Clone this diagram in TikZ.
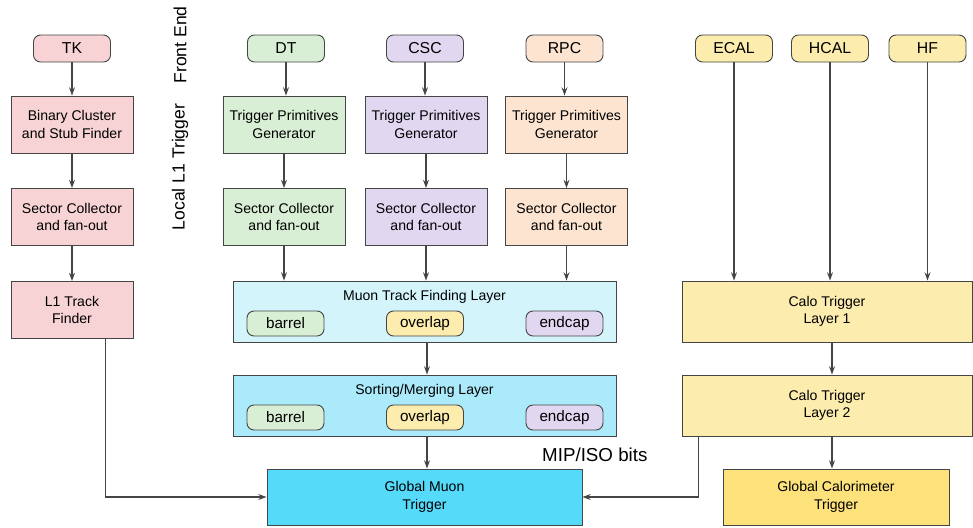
\documentclass[tikz,border=0pt]{standalone}
\usepackage{fontspec}
\setmainfont{Liberation Sans}
\usetikzlibrary{arrows.meta,calc}

\definecolor{tkpink}{HTML}{F8D3D5}
\definecolor{dtgreen}{HTML}{D9EFD5}
\definecolor{cscpurple}{HTML}{E1D7F1}
\definecolor{rpcorange}{HTML}{FCE4D0}
\definecolor{calopale}{HTML}{FCECAE}
\definecolor{caloyellow}{HTML}{FDE27C}
\definecolor{mtfcyan}{HTML}{D4F4FC}
\definecolor{smcyan}{HTML}{ABEAFA}
\definecolor{gmtcyan}{HTML}{55DAFA}
\definecolor{linegray}{HTML}{454545}

\begin{document}
\begin{tikzpicture}[x=0.03cm,y=-0.03cm,
	pill/.style={draw=linegray,line width=0.8pt,rounded corners=6pt,minimum width=2.31cm,minimum height=0.81cm,inner sep=0pt,font=\fontsize{13.5}{16}\selectfont},
	box/.style={draw=linegray,line width=0.8pt,minimum width=3.66cm,minimum height=1.71cm,inner sep=0pt,align=center,font=\fontsize{12}{15}\selectfont},
	layer/.style={draw=linegray,line width=0.8pt,minimum width=11.49cm,minimum height=1.83cm,inner sep=0pt},
	subpill/.style={draw=linegray,line width=0.8pt,rounded corners=6pt,minimum width=2.31cm,minimum height=0.75cm,inner sep=0pt,font=\fontsize{13}{15}\selectfont},
	layertitle/.style={inner sep=0pt,font=\fontsize{12}{15}\selectfont},
	sidelabel/.style={rotate=90,inner sep=0pt,font=\fontsize{15}{18}\selectfont},
	arr/.style={-{Stealth[length=7pt,width=5pt]},draw=linegray,line width=1pt}]
	\useasboundingbox (0,0) rectangle (973,527);

	% front end
	\node[pill,fill=tkpink] (tk) at (72,48.5) {TK};
	\node[pill,fill=dtgreen] (dt) at (286,48.5) {DT};
	\node[pill,fill=cscpurple] (csc) at (425,48.5) {CSC};
	\node[pill,fill=rpcorange] (rpc) at (564.5,48.5) {RPC};
	\node[pill,fill=calopale] (ecal) at (734,48.5) {ECAL};
	\node[pill,fill=calopale] (hcal) at (830,48.5) {HCAL};
	\node[pill,fill=calopale] (hf) at (927.5,48.5) {HF};

	\node[sidelabel] (frontend) at (180,45) {Front End};
	\node[sidelabel] (locall1) at (180,167) {Local L1 Trigger};

	% tracker column
	\node[box,fill=tkpink] (bcsf) at (72,124.5) {Binary Cluster\\and Stub Finder};
	\node[box,fill=tkpink] (tksc) at (72,217) {Sector Collector\\and fan-out};
	\node[box,fill=tkpink] (l1tf) at (72,310) {L1 Track\\Finder};

	% muon columns
	\node[box,fill=dtgreen] (dttpg) at (284,124.5) {Trigger Primitives\\Generator};
	\node[box,fill=cscpurple] (csctpg) at (426,124.5) {Trigger Primitives\\Generator};
	\node[box,fill=rpcorange] (rpctpg) at (566.5,124.5) {Trigger Primitives\\Generator};
	\node[box,fill=dtgreen] (dtsc) at (284,217) {Sector Collector\\and fan-out};
	\node[box,fill=cscpurple] (cscsc) at (426,217) {Sector Collector\\and fan-out};
	\node[box,fill=rpcorange] (rpcsc) at (566.5,217) {Sector Collector\\and fan-out};

	\node[layer,fill=mtfcyan] (mtf) at (424.5,311.5) {};
	\node[layertitle] (mtftitle) at (424.5,297) {Muon Track Finding Layer};
	\node[subpill,fill=dtgreen] (mtfbarrel) at (285.5,323.5) {barrel};
	\node[subpill,fill=calopale] (mtfoverlap) at (425,323.5) {overlap};
	\node[subpill,fill=cscpurple] (mtfendcap) at (564.5,323.5) {endcap};

	\node[layer,fill=smcyan] (sm) at (424.5,405.5) {};
	\node[layertitle] (smtitle) at (424.5,391) {Sorting/Merging Layer};
	\node[subpill,fill=dtgreen] (smbarrel) at (285.5,417.5) {barrel};
	\node[subpill,fill=calopale] (smoverlap) at (425,417.5) {overlap};
	\node[subpill,fill=cscpurple] (smendcap) at (564.5,417.5) {endcap};

	\node[box,fill=gmtcyan,minimum width=9.45cm,minimum height=1.68cm] (gmt) at (424.5,497) {Global Muon\\Trigger};

	% calorimeter column
	\node[box,fill=calopale,minimum width=8.7cm,minimum height=1.83cm] (calo1) at (827,311.5) {Calo Trigger\\Layer 1};
	\node[box,fill=calopale,minimum width=8.7cm,minimum height=1.83cm] (calo2) at (827,405.5) {Calo Trigger\\Layer 2};
	\node[box,fill=caloyellow,minimum width=6.78cm,minimum height=1.68cm] (gct) at (836,497) {Global Calorimeter\\Trigger};

	\node[anchor=west,inner sep=0pt,font=\fontsize{16}{19}\selectfont] (mipiso) at (542,455) {MIP/ISO bits};

	% arrows
	\draw[arr] (tk) -- (bcsf);
	\draw[arr] (bcsf) -- (tksc);
	\draw[arr] (tksc) -- (l1tf);
	\draw[arr] ($(l1tf.south)+(33.5,0)$) |- (gmt.west);

	\draw[arr] (dt.south) -- (dt.south |- dttpg.north);
	\draw[arr] (csc.south) -- (csc.south |- csctpg.north);
	\draw[arr] (rpc.south) -- (rpc.south |- rpctpg.north);
	\draw[arr] (dttpg) -- (dtsc);
	\draw[arr] (csctpg) -- (cscsc);
	\draw[arr] (rpctpg) -- (rpcsc);
	\draw[arr] (dtsc.south) -- (dtsc.south |- mtf.north);
	\draw[arr] (cscsc.south) -- (cscsc.south |- mtf.north);
	\draw[arr] (rpcsc.south) -- (rpcsc.south |- mtf.north);
	\draw[arr] ($(mtf.south)+(2.5,0)$) -- ($(sm.north)+(2.5,0)$);
	\draw[arr] ($(sm.south)+(2.5,0)$) -- ($(gmt.north)+(2.5,0)$);

	\draw[arr] (ecal.south) -- (ecal.south |- calo1.north);
	\draw[arr] (hcal.south) -- (hcal.south |- calo1.north);
	\draw[arr] (hf.south) -- (hf.south |- calo1.north);
	\draw[arr] ($(calo1.south)+(5,0)$) -- ($(calo2.north)+(5,0)$);
	\draw[arr] ($(calo2.south)+(5,0)$) -- ($(gct.north)+(-4,0)$);
	\draw[arr] ($(calo2.south west)+(17,0)$) |- (gmt.east);
\end{tikzpicture}
\end{document}
